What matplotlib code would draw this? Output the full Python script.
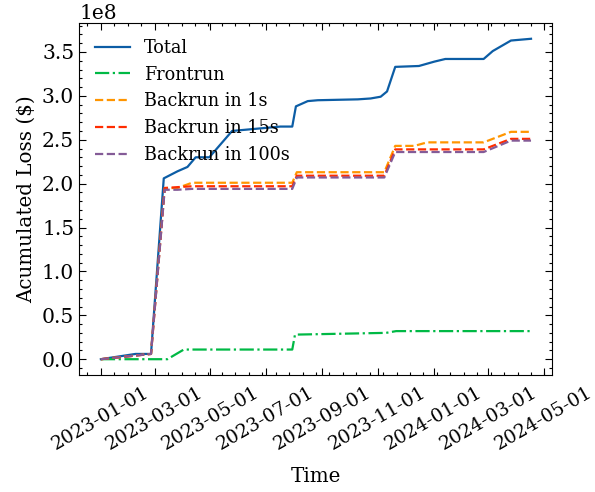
import numpy as np
import pandas as pd
import matplotlib
matplotlib.use("Agg")
import matplotlib.pyplot as plt
import matplotlib.dates as mdates
from matplotlib.ticker import AutoMinorLocator, MultipleLocator

# values (loss in units of 1e8 $)
total_dates = ['2023-01-01', '2023-02-08', '2023-02-25', '2023-03-11', '2023-03-26',
               '2023-04-06', '2023-04-15', '2023-04-30', '2023-05-25', '2023-07-17',
               '2023-07-30', '2023-08-03', '2023-08-16', '2023-08-27', '2023-10-10',
               '2023-10-24', '2023-11-04', '2023-11-11', '2023-11-20', '2023-12-16',
               '2024-01-02', '2024-01-14', '2024-02-25', '2024-03-06', '2024-03-26',
               '2024-04-17']
total_vals = [0.00, 0.06, 0.06, 2.06, 2.14, 2.19, 2.30, 2.30, 2.60, 2.65,
              2.65, 2.88, 2.94, 2.95, 2.96, 2.97, 2.99, 3.05, 3.33, 3.34,
              3.39, 3.42, 3.42, 3.51, 3.63, 3.65]

front_dates = ['2023-01-01', '2023-03-15', '2023-04-02', '2023-07-30', '2023-08-02',
               '2023-11-10', '2023-11-21', '2024-04-17']
front_vals = [0.00, 0.00, 0.11, 0.11, 0.28, 0.30, 0.32, 0.32]

back_dates = ['2023-01-01', '2023-02-25', '2023-03-12', '2023-03-26', '2023-04-11',
              '2023-07-30', '2023-08-04', '2023-11-08', '2023-11-20', '2023-12-11',
              '2023-12-25', '2024-02-25', '2024-03-26', '2024-04-17']
back1_vals = [0.00, 0.06, 1.95, 1.95, 2.01, 2.01, 2.13, 2.13, 2.43, 2.43,
              2.47, 2.47, 2.59, 2.59]
back15_vals = [0.00, 0.06, 1.95, 1.96, 1.97, 1.97, 2.09, 2.09, 2.39, 2.39,
               2.39, 2.39, 2.51, 2.51]
back100_vals = [0.00, 0.06, 1.93, 1.93, 1.94, 1.94, 2.07, 2.07, 2.36, 2.36,
                2.36, 2.36, 2.49, 2.49]

plt.rcParams['font.family'] = 'serif'
plt.rcParams['font.serif'] = ['DejaVu Serif']
plt.rcParams['font.size'] = 14.3
plt.rcParams['xtick.labelsize'] = 13.6
plt.rcParams['ytick.labelsize'] = 14.6
plt.rcParams['legend.fontsize'] = 12.7
plt.rcParams['mathtext.fontset'] = 'dejavuserif'
plt.rcParams['axes.linewidth'] = 0.8
for ax_name in ['xtick', 'ytick']:
    plt.rcParams[ax_name + '.direction'] = 'in'
    plt.rcParams[ax_name + '.major.size'] = 4.9
    plt.rcParams[ax_name + '.minor.size'] = 2.4
    plt.rcParams[ax_name + '.major.width'] = 0.8
    plt.rcParams[ax_name + '.minor.width'] = 0.8
    plt.rcParams[ax_name + '.minor.visible'] = True
plt.rcParams['xtick.top'] = True
plt.rcParams['ytick.right'] = True
plt.rcParams['xtick.major.pad'] = 6

fig = plt.figure(figsize=(5.95, 4.92), dpi=100)
ax = fig.add_axes([0.1328, 0.2378, 0.7949, 0.7155])

scale = 1e8
ax.plot(pd.to_datetime(total_dates), np.array(total_vals) * scale,
        color='#0C5DA5', lw=1.6, label='Total')
ax.plot(pd.to_datetime(front_dates), np.array(front_vals) * scale,
        color='#00B945', lw=1.6, ls='-.', label='Frontrun')
ax.plot(pd.to_datetime(back_dates), np.array(back1_vals) * scale,
        color='#FF9500', lw=1.6, ls='--', label='Backrun in 1s')
ax.plot(pd.to_datetime(back_dates), np.array(back15_vals) * scale,
        color='#FF2C00', lw=1.6, ls='--', label='Backrun in 15s')
ax.plot(pd.to_datetime(back_dates), np.array(back100_vals) * scale,
        color='#845B97', lw=1.6, ls='--', label='Backrun in 100s')

ax.xaxis.set_major_locator(mdates.MonthLocator(bymonth=[1, 3, 5, 7, 9, 11]))
ax.xaxis.set_major_formatter(mdates.DateFormatter('%Y-%m-%d'))
ax.xaxis.set_minor_locator(AutoMinorLocator())
ax.yaxis.set_major_locator(MultipleLocator(0.5e8))
ax.yaxis.set_minor_locator(AutoMinorLocator(5))
ax.set_xlim(pd.Timestamp('2022-12-08'), pd.Timestamp('2024-05-10'))
ax.set_ylim(-0.18e8, 3.83e8)
plt.setp(ax.get_xticklabels(), rotation=30)

ax.set_xlabel('Time', labelpad=10)
ax.set_ylabel('Acumulated Loss ($)')
ax.legend(loc='upper left', frameon=False)

fig.savefig('out.png', dpi=100)
